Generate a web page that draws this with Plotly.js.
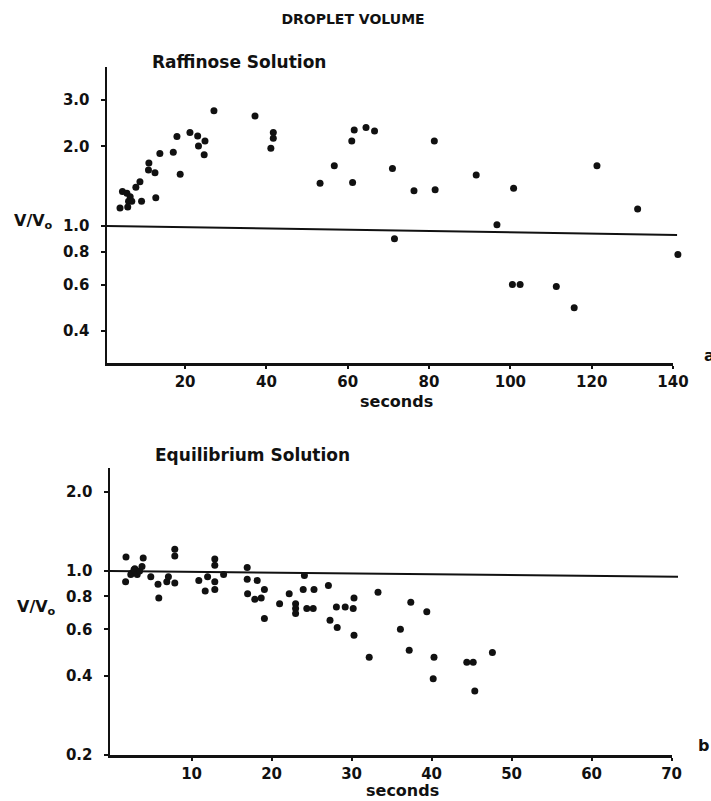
<!DOCTYPE html>
<html>
<head>
<meta charset="utf-8">
<script src="https://cdn.plot.ly/plotly-3.0.1.min.js"></script>
<style>
  html, body { margin: 0; padding: 0; background: #fff; }
  #chart { width: 711px; height: 801px; }
</style>
</head>
<body>
<div id="chart"></div>
<script>
// ---- Panel a: Raffinose solution (time in seconds, relative volume V/Vo) ----
const raffT = [4.0, 4.6, 5.7, 6.5, 6.1, 6.9, 5.9, 7.9, 8.9, 9.3, 11.1, 11.0, 12.6, 12.8, 13.8,
               17.1, 18.0, 18.8, 21.2, 23.1, 23.3, 24.7, 24.9, 27.1, 37.2, 41.1, 41.7, 41.7,
               53.2, 56.7, 61.2, 61.0, 61.6, 64.5, 66.6, 71.0, 71.5, 76.3, 81.3, 81.5, 91.6,
               96.7, 100.8, 100.5, 102.4, 111.3, 115.7, 121.3, 131.3, 141.2];
const raffV = [1.17, 1.35, 1.33, 1.29, 1.24, 1.24, 1.18, 1.40, 1.47, 1.24, 1.73, 1.63, 1.59, 1.28, 1.88,
               1.90, 2.18, 1.57, 2.26, 2.19, 2.01, 1.86, 2.10, 2.73, 2.61, 1.97, 2.26, 2.15,
               1.45, 1.69, 1.46, 2.10, 2.31, 2.36, 2.29, 1.65, 0.895, 1.36, 2.10, 1.37, 1.56,
               1.01, 1.39, 0.60, 0.60, 0.59, 0.49, 1.69, 1.16, 0.78];

// ---- Panel b: Equilibrium solution ----
const eqT = [1.8, 1.75, 2.5, 2.9, 2.4, 2.8, 3.2, 3.5, 3.95, 3.8, 4.9, 5.8, 5.9, 6.9, 7.1,
             7.9, 7.9, 7.9, 10.9, 11.7, 12.0, 12.9, 12.9, 12.9, 12.9, 14.0, 16.95, 16.95, 17.0,
             18.2, 17.9, 18.7, 19.1, 19.1, 21.0, 22.2, 23.0, 23.0, 23.0, 24.1, 23.95, 24.4,
             25.2, 25.3, 27.1, 27.3, 28.1, 28.2, 29.2, 30.3, 30.3, 30.2, 32.2, 33.3, 36.1,
             37.4, 37.2, 39.4, 40.3, 40.2, 44.4, 45.2, 45.4, 47.6];
const eqV = [1.13, 0.91, 0.98, 1.02, 0.97, 1.01, 0.97, 1.00, 1.12, 1.04, 0.95, 0.89, 0.79, 0.91, 0.95,
             1.21, 1.14, 0.90, 0.92, 0.84, 0.95, 1.11, 1.05, 0.91, 0.85, 0.97, 1.03, 0.93, 0.82,
             0.92, 0.78, 0.79, 0.85, 0.66, 0.75, 0.82, 0.75, 0.72, 0.69, 0.96, 0.85, 0.72,
             0.72, 0.85, 0.88, 0.65, 0.73, 0.61, 0.73, 0.79, 0.57, 0.72, 0.47, 0.83, 0.60,
             0.76, 0.50, 0.70, 0.47, 0.39, 0.45, 0.45, 0.35, 0.49];

// reference lines at V/Vo = 1 (as drawn, slightly sloping)
const refTopX = [0.8, 141.0];
const refTopY = [1.0, 0.925];
const refBotX = [-0.2, 70.8];
const refBotY = [1.0, 0.95];

// tick labels
const topXTicks = [20, 40, 60, 80, 100, 120, 140];
const botXTicks = [10, 20, 30, 40, 50, 60, 70];
const topYTicks = [0.4, 0.6, 0.8, 1.0, 2.0, 3.0];
const topYLabels = ['0.4', '0.6', '0.8', '1.0', '2.0', '3.0'];
const botYTicks = [0.2, 0.4, 0.6, 0.8, 1.0, 2.0];
const botYLabels = ['0.2', '0.4', '0.6', '0.8', '1.0', '2.0'];

const FONT = 'DejaVu Sans, Liberation Sans, Arial, sans-serif';
const INK = '#111111';
const tickFont = { family: FONT, size: 15, color: INK, weight: 'bold' };

const H = 801, W = 711;
const py = p => 1 - p / H;   // pixel row -> paper fraction
const px = p => p / W;

// visible axes and their scales
const topRange = [0.8, 140], topDom = [107, 673];
const botRange = [-0.2, 70], botDom = [110, 671.6];
// hidden, same-scale axes that extend a little to the right so that marks
// drawn just past the last tick (as in the original figure) are not hidden
function extend(range, dom, newMax) {
  const k = (dom[1] - dom[0]) / (range[1] - range[0]);
  return { range: [range[0], newMax], dom: [dom[0], dom[0] + k * (newMax - range[0])] };
}
const topExt = extend(topRange, topDom, 142.5);
const botExt = extend(botRange, botDom, 71.5);

const traces = [
  // empty traces so the visible axis pairs form subplots
  { x: [], y: [], xaxis: 'x', yaxis: 'y', mode: 'markers', showlegend: false },
  { x: [], y: [], xaxis: 'x2', yaxis: 'y2', mode: 'markers', showlegend: false },
  { x: refTopX, y: refTopY, xaxis: 'x3', yaxis: 'y', mode: 'lines',
    line: { color: INK, width: 2 }, hoverinfo: 'skip', showlegend: false },
  { x: raffT, y: raffV, xaxis: 'x3', yaxis: 'y', mode: 'markers', type: 'scatter',
    marker: { color: INK, size: 7 }, showlegend: false, cliponaxis: false },
  { x: refBotX, y: refBotY, xaxis: 'x4', yaxis: 'y2', mode: 'lines',
    line: { color: INK, width: 2 }, hoverinfo: 'skip', showlegend: false },
  { x: eqT, y: eqV, xaxis: 'x4', yaxis: 'y2', mode: 'markers', type: 'scatter',
    marker: { color: INK, size: 7 }, showlegend: false, cliponaxis: false }
];

function xAxis(dom, range, ticks, anchor) {
  return {
    domain: [px(dom[0]), px(dom[1])], range: range, anchor: anchor,
    tickvals: ticks, ticktext: ticks.map(String),
    showline: true, linecolor: INK, linewidth: 2.5,
    ticks: 'outside', ticklen: 3, tickwidth: 2, tickcolor: INK,
    showgrid: false, zeroline: false, tickfont: tickFont, ticklabelstandoff: 0,
    fixedrange: true
  };
}
function hiddenX(ext, anchor) {
  return {
    domain: [px(ext.dom[0]), px(ext.dom[1])], range: ext.range, anchor: anchor,
    visible: false, showgrid: false, zeroline: false, fixedrange: true
  };
}
function yAxis(domain, range, ticks, labels, anchor) {
  return {
    type: 'log', domain: domain, range: range, anchor: anchor,
    tickvals: ticks, ticktext: labels,
    showline: true, linecolor: INK, linewidth: 2.5,
    ticks: 'outside', ticklen: 4, tickwidth: 2, tickcolor: INK,
    showgrid: false, zeroline: false, tickfont: tickFont, ticklabelstandoff: 8,
    fixedrange: true
  };
}

const annFont = (s) => ({ family: FONT, size: s, color: INK, weight: 'bold' });

const layout = {
  width: W, height: H,
  margin: { l: 0, r: 0, t: 0, b: 0 },
  paper_bgcolor: '#ffffff', plot_bgcolor: '#ffffff',
  showlegend: false,
  title: { text: 'DROPLET VOLUME', font: annFont(14), x: px(353), xanchor: 'center',
           y: py(19), yanchor: 'middle', xref: 'paper', yref: 'paper' },
  xaxis: xAxis(topDom, topRange, topXTicks, 'y'),
  yaxis: yAxis([py(363), py(67)], [Math.log10(0.3026), Math.log10(4.0)], topYTicks, topYLabels, 'x'),
  xaxis2: xAxis(botDom, botRange, botXTicks, 'y2'),
  yaxis2: yAxis([py(755), py(468)], [Math.log10(0.2), Math.log10(2.46)], botYTicks, botYLabels, 'x2'),
  xaxis3: hiddenX(topExt, 'y'),
  xaxis4: hiddenX(botExt, 'y2'),
  annotations: [
    { text: 'Raffinose Solution', xref: 'paper', yref: 'paper', x: px(150), y: py(62),
      xanchor: 'left', yanchor: 'middle', showarrow: false, font: annFont(17) },
    { text: 'Equilibrium Solution', xref: 'paper', yref: 'paper', x: px(153), y: py(455),
      xanchor: 'left', yanchor: 'middle', showarrow: false, font: annFont(17) },
    { text: 'V/V<sub>o</sub>', xref: 'paper', yref: 'paper', x: px(33), y: py(221),
      xanchor: 'center', yanchor: 'middle', showarrow: false, font: annFont(16) },
    { text: 'V/V<sub>o</sub>', xref: 'paper', yref: 'paper', x: px(36), y: py(607),
      xanchor: 'center', yanchor: 'middle', showarrow: false, font: annFont(16) },
    { text: 'seconds', xref: 'paper', yref: 'paper', x: px(396), y: py(401),
      xanchor: 'center', yanchor: 'middle', showarrow: false, font: annFont(16) },
    { text: 'seconds', xref: 'paper', yref: 'paper', x: px(402), y: py(790),
      xanchor: 'center', yanchor: 'middle', showarrow: false, font: annFont(16) },
    { text: 'a', xref: 'paper', yref: 'paper', x: px(702), y: py(355),
      xanchor: 'left', yanchor: 'middle', showarrow: false, font: annFont(16) },
    { text: 'b', xref: 'paper', yref: 'paper', x: px(696), y: py(745),
      xanchor: 'left', yanchor: 'middle', showarrow: false, font: annFont(16) }
  ]
};

Plotly.newPlot('chart', traces, layout, { displayModeBar: false, staticPlot: true });
</script>
</body>
</html>
